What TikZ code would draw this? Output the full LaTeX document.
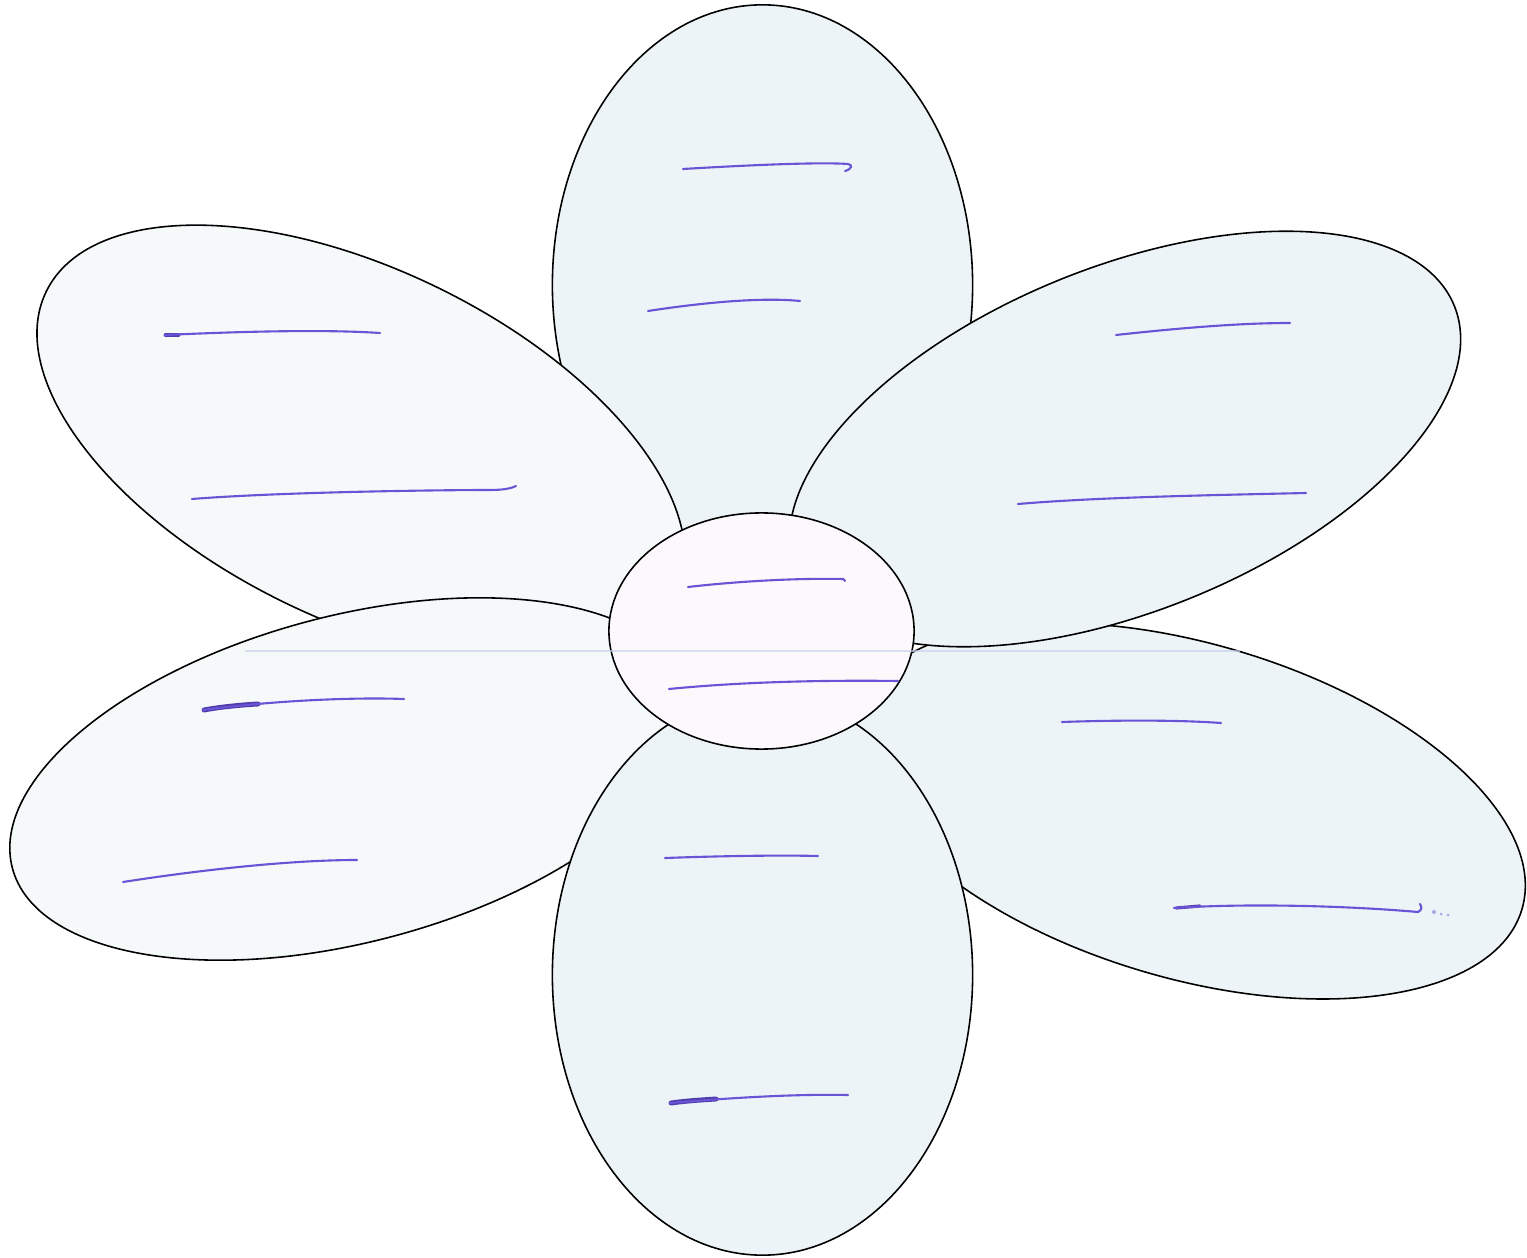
\documentclass[tikz,border=0pt]{standalone}
\definecolor{ink}{RGB}{106,84,214}
\definecolor{inkdark}{RGB}{80,60,170}
\definecolor{petalBlue}{RGB}{237,244,248}
\definecolor{petalPale}{RGB}{245,249,250}
\definecolor{centerPink}{RGB}{252,248,251}
\definecolor{scanline}{RGB}{200,212,238}
\tikzset{
  petal/.style={draw=black, line width=0.45pt},
  pen/.style={draw=ink, line width=0.6pt, line cap=round},
  penblob/.style={draw=inkdark, line width=1.4pt, line cap=round}
}
\begin{document}
\begin{tikzpicture}[x=0.01cm, y=-0.01cm]
\fill[white] (0,0) rectangle (1527,1258);
\useasboundingbox (0,0) rectangle (1527,1258);
% petals (back to front)
\draw[petal, fill=petalBlue] (762.5,285) ellipse [x radius=2.10cm, y radius=2.80cm];
\draw[petal, fill=petalBlue, shift={(1190,811)}, rotate=-16.5] (0,0) ellipse [x radius=3.46cm, y radius=1.67cm];
\draw[petal, fill=petalBlue, shift={(1125,439)}, rotate=22] (0,0) ellipse [x radius=3.55cm, y radius=1.72cm];
\draw[petal, fill=petalPale, shift={(361,445)}, rotate=-26] (0,0) ellipse [x radius=3.50cm, y radius=1.75cm];
\draw[petal, fill=petalPale, shift={(350,779)}, rotate=14.8] (0,0) ellipse [x radius=3.49cm, y radius=1.63cm];
\draw[petal, fill=petalBlue] (762.5,975) ellipse [x radius=2.10cm, y radius=2.80cm];
\draw[petal, fill=centerPink] (761.5,631) ellipse [x radius=1.525cm, y radius=1.18cm];
% faint scan line
\draw[scanline, line width=0.35pt, opacity=0.7] (245,651) -- (1240,651);
% top petal strokes
\draw[pen] (683,169) .. controls (750,165) and (820,162) .. (848,164) .. controls (853,165) and (852,169) .. (845,171);
\draw[pen] (648,311) .. controls (700,303) and (760,297) .. (800,301);
% upper left strokes
\draw[penblob] (166,335) -- (178,335);
\draw[pen] (165,335) .. controls (230,332) and (320,329) .. (380,333);
\draw[pen] (192,499) .. controls (280,492) and (440,490) .. (490,490) .. controls (505,490) and (512,488) .. (516,486);
% upper right strokes
\draw[pen] (1116,335) .. controls (1180,328) and (1240,323) .. (1290,323);
\draw[pen] (1018,504) .. controls (1100,497) and (1220,495) .. (1306,493);
% center strokes
\draw[pen] (688,587) .. controls (740,581) and (800,578) .. (843,579) -- (845,581);
\draw[pen] (669,689) .. controls (740,682) and (820,680) .. (898,681);
% lower left strokes
\draw[penblob] (204,710) .. controls (220,707) and (240,705) .. (258,704);
\draw[pen] (203,710) .. controls (270,701) and (350,697) .. (404,699);
\draw[pen] (123,882) .. controls (200,870) and (290,860) .. (357,860);
% lower right strokes
\draw[pen] (1062,722) .. controls (1120,720) and (1180,720) .. (1221,723);
\draw[penblob, line width=0.9pt] (1176,908) -- (1200,906);
\draw[pen] (1174,908) .. controls (1250,903) and (1350,906) .. (1418,912) .. controls (1422,910) and (1422,907) .. (1420,904);
\fill[ink, opacity=0.5] (1434,912) circle[radius=0.02cm] (1441,914) circle[radius=0.015cm] (1448,915) circle[radius=0.015cm];
% bottom petal strokes
\draw[pen] (665,858) .. controls (720,856) and (780,855) .. (818,856);
\draw[penblob] (671,1103) .. controls (685,1101) and (700,1100) .. (716,1099);
\draw[pen] (670,1103) .. controls (740,1097) and (800,1094) .. (848,1095);
\end{tikzpicture}
\end{document}
